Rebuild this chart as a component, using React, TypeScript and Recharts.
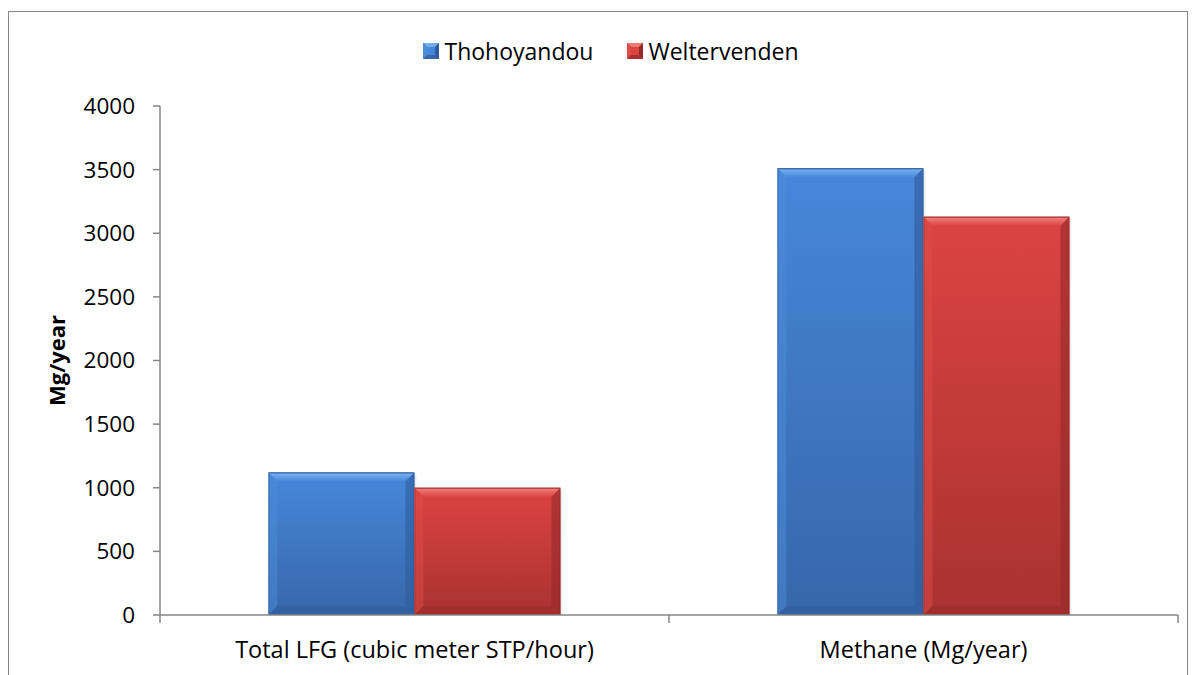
import React from 'react';
import { BarChart, Bar, XAxis, YAxis, Legend } from 'recharts';

const categories = ['Total LFG (cubic meter STP/hour)', 'Methane (Mg/year)'];
const thohoyandou = [1120, 3510];
const weltervenden = [1000, 3130];
const yTicks = [0, 500, 1000, 1500, 2000, 2500, 3000, 3500, 4000];
const seriesNames = ['Thohoyandou', 'Weltervenden'];
const yLabel = 'Mg/year';

const data = categories.map((c, i) => ({
  name: c,
  [seriesNames[0]]: thohoyandou[i],
  [seriesNames[1]]: weltervenden[i],
}));

const FONT = '"Open Sans", "Noto Sans", sans-serif';
const AXIS = '#868686';
const TICK_SIZE = 8;
const TICK_MARGIN = 18;

type Tone = 'blue' | 'red';
const PALETTE: Record<Tone, { hi: string; top: string; bottom: string; left: string; right: string; edge: string; base: string }> = {
  blue: { hi: '#74aef0', top: '#4787da', bottom: '#3767aa', left: '#4b8bd8', right: '#2f5c9c', edge: '#2c5590', base: '#4080d0' },
  red: { hi: '#ee7a76', top: '#dc4442', bottom: '#a93231', left: '#de4b48', right: '#962a29', edge: '#8d2726', base: '#d04040' },
};

function BevelBar(props: any) {
  const { x, y, width, height, tone, index } = props;
  if (!height || height <= 0) return null;
  const c = PALETTE[tone as Tone];
  const b = Math.min(9, width / 2, height / 2);
  const gid = `g-${tone}-${index}`;
  const hid = `h-${tone}-${index}`;
  return (
    <g>
      <defs>
        <linearGradient id={gid} x1="0" y1="0" x2="0" y2="1">
          <stop offset="0" stopColor={c.top} />
          <stop offset="1" stopColor={c.bottom} />
        </linearGradient>
        <linearGradient id={hid} x1="0" y1="0" x2="0" y2="1">
          <stop offset="0" stopColor={c.edge} />
          <stop offset="0.15" stopColor={c.hi} />
          <stop offset="1" stopColor={c.top} />
        </linearGradient>
      </defs>
      <rect x={x + 2} y={y + 2} width={width} height={height - 2} fill="rgba(0,0,0,0.07)" />
      <rect x={x} y={y} width={width} height={height} fill={`url(#${gid})`} />
      <polygon
        points={`${x},${y} ${x + width},${y} ${x + width - b},${y + b} ${x + b},${y + b}`}
        fill={`url(#${hid})`}
      />
      <polygon
        points={`${x},${y} ${x + b},${y + b} ${x + b},${y + height - b} ${x},${y + height}`}
        fill={c.left}
        opacity={0.5}
      />
      <polygon
        points={`${x + width},${y} ${x + width - b},${y + b} ${x + width - b},${y + height - b} ${x + width},${y + height}`}
        fill={c.right}
        opacity={0.6}
      />
      <polygon
        points={`${x},${y + height} ${x + b},${y + height - b} ${x + width - b},${y + height - b} ${x + width},${y + height}`}
        fill={c.right}
        opacity={0.45}
      />
      <rect x={x + 0.5} y={y + 0.5} width={width - 1} height={height - 1} fill="none" stroke={c.edge} strokeOpacity={0.5} />
    </g>
  );
}

function XTick(props: any) {
  const { x, y, payload, width, visibleTicksCount, index } = props;
  const count = visibleTicksCount || categories.length;
  const band = width ? width / count : 0;
  const lineTop = y - TICK_MARGIN - TICK_SIZE;
  const lineBottom = y - TICK_MARGIN;
  return (
    <g>
      <text x={x} y={y} dy="0.71em" textAnchor="middle" fontSize={23.5} fontFamily={FONT} fill="#000">
        {payload.value}
      </text>
      {band > 0 && index === 0 && (
        <line x1={x - band / 2} x2={x - band / 2} y1={lineTop} y2={lineBottom} stroke={AXIS} strokeWidth={1.5} />
      )}
      {band > 0 && (
        <line x1={x + band / 2} x2={x + band / 2} y1={lineTop} y2={lineBottom} stroke={AXIS} strokeWidth={1.5} />
      )}
    </g>
  );
}

function LegendSwatch({ tone }: { tone: Tone }) {
  const c = PALETTE[tone];
  return (
    <svg width={16} height={16} style={{ display: 'block' }}>
      <rect x={0} y={0} width={16} height={16} fill={c.bottom} />
      <polygon points="0,0 16,0 12,4 4,4" fill={c.hi} />
      <polygon points="0,0 4,4 4,12 0,16" fill={c.left} />
      <polygon points="16,0 12,4 12,12 16,16" fill={c.right} />
      <rect x={4} y={4} width={8} height={8} fill={c.top} />
    </svg>
  );
}

function LegendContent() {
  const tones: Tone[] = ['blue', 'red'];
  return (
    <div
      style={{
        display: 'flex',
        justifyContent: 'center',
        alignItems: 'center',
        height: 24,
        paddingLeft: 26,
        fontFamily: FONT,
        fontSize: 23,
        color: '#000',
      }}
    >
      {seriesNames.map((n, i) => (
        <div key={n} style={{ display: 'flex', alignItems: 'center', marginRight: i === 0 ? 34 : 0 }}>
          <LegendSwatch tone={tones[i]} />
          <span style={{ marginLeft: 5, lineHeight: '24px' }}>{n}</span>
        </div>
      ))}
    </div>
  );
}

function YLabel(props: any) {
  const vb = props.viewBox || {};
  const cx = (vb.x || 0) + 27;
  const cy = (vb.y || 0) + (vb.height || 0) / 2;
  return (
    <text
      x={cx}
      y={cy}
      transform={`rotate(-90, ${cx}, ${cy})`}
      textAnchor="middle"
      dy="0.35em"
      fontSize={22}
      fontWeight="bold"
      fontFamily={FONT}
      fill="#000"
    >
      {yLabel}
    </text>
  );
}

export default function App() {
  return (
    <div style={{ position: 'relative', width: 1180, height: 667, background: '#fff' }}>
      <div
        style={{
          position: 'absolute',
          left: 0,
          top: 3,
          width: 1178,
          height: 720,
          border: `1px solid ${AXIS}`,
          boxSizing: 'content-box',
        }}
      />
      <div style={{ position: 'absolute', left: 0, top: 0 }}>
        <BarChart
          width={1180}
          height={667}
          data={data}
          margin={{ top: 74, right: 10, bottom: 0, left: 22 }}
          barCategoryGap="21.3%"
          barGap={0}
        >
          <Legend verticalAlign="top" content={<LegendContent />} wrapperStyle={{ top: 31, left: 0, width: 1180 }} />
          <YAxis
            domain={[0, 4000]}
            ticks={yTicks}
            interval={0}
            width={130}
            tickSize={7}
            tickMargin={18}
            axisLine={{ stroke: AXIS, strokeWidth: 1.5 }}
            tickLine={{ stroke: AXIS, strokeWidth: 1.5 }}
            tick={{ fontSize: 22.5, fontFamily: FONT, fill: '#000' }}
            label={<YLabel />}
          />
          <XAxis
            dataKey="name"
            height={60}
            interval={0}
            tickSize={TICK_SIZE}
            tickMargin={TICK_MARGIN}
            tickLine={false}
            axisLine={{ stroke: AXIS, strokeWidth: 1.5 }}
            tick={<XTick />}
          />
          <Bar dataKey={seriesNames[0]} fill={PALETTE.blue.base} isAnimationActive={false} shape={(p: any) => <BevelBar {...p} tone="blue" />} />
          <Bar dataKey={seriesNames[1]} fill={PALETTE.red.base} isAnimationActive={false} shape={(p: any) => <BevelBar {...p} tone="red" />} />
        </BarChart>
      </div>
    </div>
  );
}
